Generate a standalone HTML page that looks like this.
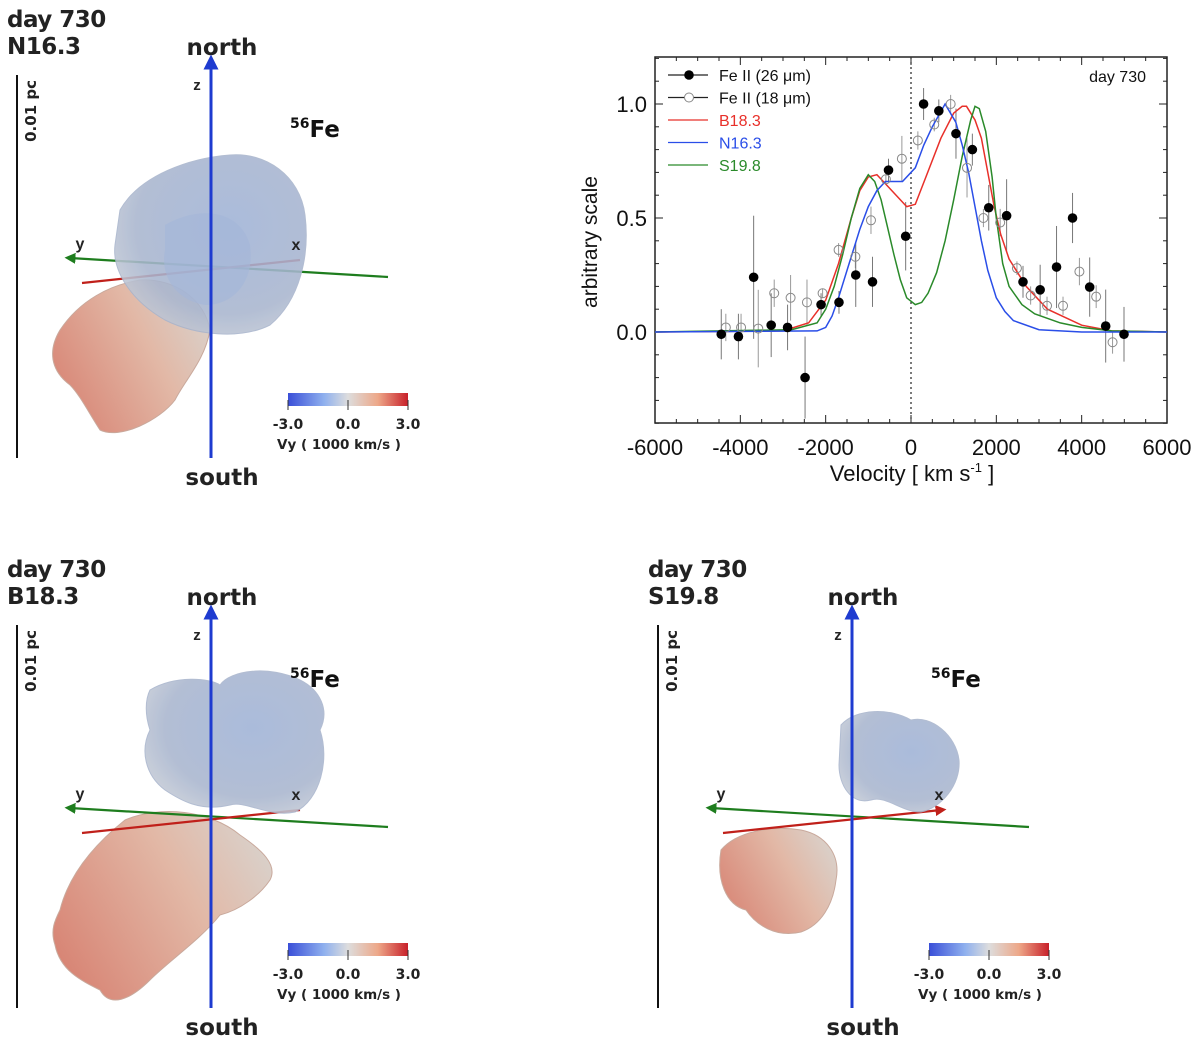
<!DOCTYPE html>
<html><head><meta charset="utf-8"><style>
body{margin:0;background:#fff;}
svg{display:block;font-family:"Liberation Sans",sans-serif;}
</style></head><body>
<svg id="root" width="1200" height="1046" viewBox="0 0 1200 1046">
<defs>
<linearGradient id="cb" x1="0" x2="1"><stop offset="0" stop-color="#3a4fd8"/><stop offset="0.3" stop-color="#8fb0ee"/><stop offset="0.5" stop-color="#dddddd"/><stop offset="0.75" stop-color="#eda788"/><stop offset="1" stop-color="#c8202a"/></linearGradient>
<radialGradient id="blueblob" cx="0.6" cy="0.4" r="0.7"><stop offset="0" stop-color="#9fb2d6"/><stop offset="0.7" stop-color="#a9b6cf"/><stop offset="1" stop-color="#c8cdd6"/></radialGradient>
<linearGradient id="redblob" x1="0" x2="1" y1="0.7" y2="0.2"><stop offset="0" stop-color="#d88676"/><stop offset="0.6" stop-color="#e2b8a6"/><stop offset="1" stop-color="#d9d2cc"/></linearGradient>
<marker id="ab" viewBox="0 0 10 10" refX="5" refY="5" markerWidth="5" markerHeight="6" orient="auto"><path d="M0,0L10,5L0,10z" fill="#1e3bd0"/></marker>
<marker id="ag" viewBox="0 0 10 10" refX="5" refY="5" markerWidth="5" markerHeight="5" orient="auto"><path d="M0,0L10,5L0,10z" fill="#1e7d1e"/></marker>
<marker id="ar" viewBox="0 0 10 10" refX="5" refY="5" markerWidth="5" markerHeight="5" orient="auto"><path d="M0,0L10,5L0,10z" fill="#c0201a"/></marker>
</defs>
<g id="panels"></g>
<g id="chart"></g>
</svg>
<script>
// ---- chart data ----
const filledV=[-4447,-4045,-3688,-3277,-2893,-2483,-2108,-1688,-1295,-902,-527,-125,295,652,1054,1438,1822,2241,2625,3027,3411,3786,4188,4563,4992];
const filledY=[-0.01,-0.02,0.24,0.03,0.02,-0.2,0.12,0.13,0.25,0.22,0.71,0.42,1.0,0.97,0.87,0.80,0.545,0.51,0.22,0.185,0.285,0.50,0.197,0.026,-0.01];
const filledErr=[0.11,0.1,0.27,0.14,0.1,0.18,0.05,0.05,0.14,0.11,0.05,0.15,0.07,0.05,0.11,0.07,0.1,0.16,0.07,0.11,0.18,0.11,0.13,0.16,0.12];
const openV=[-4340,-3983,-3580,-3206,-2822,-2438,-2072,-1697,-1304,-938,-589,-214,161,545,929,1313,1697,2090,2483,2804,3188,3563,3947,4340,4724];
const openY=[0.02,0.02,0.015,0.17,0.15,0.13,0.17,0.36,0.33,0.49,0.67,0.76,0.84,0.91,1.0,0.72,0.5,0.48,0.28,0.16,0.115,0.115,0.265,0.155,-0.045];
const openErr=[0.06,0.06,0.17,0.06,0.1,0.1,0.02,0.03,0.05,0.06,0.02,0.1,0.04,0.03,0.04,0.13,0.04,0.06,0.03,0.04,0.04,0.04,0.06,0.05,0.05];
const redV=[-6000,-3000,-2400,-2000,-1700,-1400,-1200,-1000,-800,-600,-450,-250,-100,100,350,700,1000,1200,1300,1500,1650,1800,1950,2100,2300,2700,3200,4000,4700,6000];
const redY=[0,0.005,0.04,0.14,0.3,0.5,0.62,0.68,0.69,0.65,0.62,0.58,0.55,0.56,0.68,0.85,0.96,0.99,0.99,0.93,0.85,0.7,0.55,0.43,0.32,0.2,0.1,0.03,0.005,0];
const blueV=[-6000,-2200,-2000,-1850,-1700,-1450,-1200,-1000,-800,-600,-200,100,300,500,800,1050,1200,1350,1500,1650,1800,2000,2200,2400,3000,4000,6000];
const blueY=[0,0.005,0.02,0.07,0.15,0.3,0.45,0.55,0.62,0.66,0.66,0.72,0.82,0.9,1.0,0.92,0.82,0.7,0.55,0.4,0.27,0.15,0.09,0.05,0.01,0,0];
const greenV=[-6000,-2800,-2200,-2000,-1800,-1600,-1400,-1200,-1000,-850,-700,-550,-400,-250,-100,100,250,400,600,800,1000,1200,1400,1500,1600,1750,1900,2000,2150,2300,2600,2900,3500,4000,4700,6000];
const greenY=[0,0.01,0.04,0.1,0.2,0.34,0.5,0.63,0.69,0.66,0.58,0.46,0.34,0.23,0.15,0.12,0.13,0.17,0.26,0.4,0.58,0.77,0.93,0.99,0.98,0.88,0.68,0.5,0.3,0.2,0.12,0.08,0.04,0.02,0.005,0];
const xTicks=[-6000,-4000,-2000,0,2000,4000,6000];
const yTicks=[0.0,0.5,1.0];

const NS="http://www.w3.org/2000/svg";
function mk(parent,tag,attrs,text){const e=document.createElementNS(NS,tag);for(const k in attrs)e.setAttribute(k,attrs[k]);if(text!==undefined)e.textContent=text;parent.appendChild(e);return e;}
const X0=655,X1=1167,Y0=57,Y1=423;
const xs=v=>X0+(v+6000)/12000*(X1-X0);
const ys=y=>332-y*228;
const C=document.getElementById('chart');

const fr=mk(C,'rect',{x:X0,y:Y0,width:X1-X0,height:Y1-Y0,fill:'none',stroke:'#222','stroke-width':1.5});


for(let v=-6000;v<=6000;v+=500){const big=v%2000===0;const L=big?8:4;
 mk(C,'line',{x1:xs(v),x2:xs(v),y1:Y1,y2:Y1-L,stroke:'#222'});mk(C,'line',{x1:xs(v),x2:xs(v),y1:Y0,y2:Y0+L,stroke:'#222'});}
for(let y=-0.4;y<=1.2001;y+=0.1){const big=Math.abs(y*2-Math.round(y*2))<1e-6;const L=big?8:4;
 mk(C,'line',{x1:X0,x2:X0+L,y1:ys(y),y2:ys(y),stroke:'#222'});mk(C,'line',{x1:X1,x2:X1-L,y1:ys(y),y2:ys(y),stroke:'#222'});}
xTicks.forEach(v=>{const t=mk(C,'text',{x:xs(v),y:455,'text-anchor':'middle','font-size':22,fill:'#111'},String(v));
 
 });
yTicks.forEach(v=>{const t=mk(C,'text',{x:647,y:ys(v)+8,'text-anchor':'end','font-size':22,fill:'#111'},v.toFixed(1));
 
 });
const xt=mk(C,'text',{x:912,y:481,'text-anchor':'middle','font-size':22,fill:'#111'});
xt.innerHTML='Velocity [ km s<tspan dy="-9" font-size="13">-1</tspan><tspan dy="9"> ]</tspan>';


const yt=mk(C,'text',{x:597,y:242,'text-anchor':'middle','font-size':21,fill:'#111',transform:'rotate(-90 597 242)'},'arbitrary scale');


const zl=mk(C,'line',{x1:xs(0),x2:xs(0),y1:Y0,y2:Y1,stroke:'#333','stroke-dasharray':'2,3','stroke-width':1.3});


const dl=mk(C,'text',{x:1146,y:82,'text-anchor':'end','font-size':16,fill:'#111'},'day 730');



function line(V,Y,col,name){const p=mk(C,'path',{d:V.map((v,i)=>(i?'L':'M')+xs(v).toFixed(1)+','+ys(Y[i]).toFixed(1)).join(''),fill:'none',stroke:col,'stroke-width':1.5});
 
 }
openV.forEach((v,i)=>{mk(C,'line',{x1:xs(v),x2:xs(v),y1:ys(openY[i]-openErr[i]),y2:ys(openY[i]+openErr[i]),stroke:'#999','stroke-width':1});});
filledV.forEach((v,i)=>{mk(C,'line',{x1:xs(v),x2:xs(v),y1:ys(filledY[i]-filledErr[i]),y2:ys(filledY[i]+filledErr[i]),stroke:'#777','stroke-width':1});});
line(redV,redY,'#e8302a','model-b18-3-line');
line(greenV,greenY,'#2a8a2a','model-s19-8-line');
line(blueV,blueY,'#2a4ee8','model-n16-3-line');
openV.forEach((v,i)=>{const c=mk(C,'circle',{cx:xs(v),cy:ys(openY[i]),r:4.5,fill:'none',stroke:'#888','stroke-width':1});
 
 });
filledV.forEach((v,i)=>{const c=mk(C,'circle',{cx:xs(v),cy:ys(filledY[i]),r:4.8,fill:'#000'});
 
 });
const legItems=[['Fe II (26 \u03bcm)','#222','filled'],['Fe II (18 \u03bcm)','#222','open'],['B18.3','#e8302a'],['N16.3','#2a4ee8'],['S19.8','#2a8a2a']];
legItems.forEach((it,i)=>{const y=81+i*22.5;const g=mk(C,'g',{});
 
 
 mk(g,'line',{x1:668,x2:708,y1:y-6,y2:y-6,stroke:it[1],'stroke-width':1.3});
 if(it[2]==='filled')mk(g,'circle',{cx:689,cy:y-6,r:4.8,fill:'#000'});
 if(it[2]==='open')mk(g,'circle',{cx:689,cy:y-6,r:4.5,fill:'#fff',stroke:'#888'});
 mk(g,'text',{x:719,y:y,'font-size':16,fill:it[2]?'#111':it[1]},it[0]);});

// ---- 3D panels ----
const P=document.getElementById('panels');
const panels=[
 {ox:0,oy:0,model:'N16.3',
  blue:'M120,210 C140,175 190,158 230,155 C265,152 300,175 305,215 C310,255 300,300 270,325 C240,340 195,335 165,320 C130,300 112,270 115,245 Z',
  red:'M60,330 C80,300 110,285 140,280 C175,278 205,300 210,330 C205,360 185,380 175,400 C160,420 120,440 100,430 C90,415 80,395 70,385 C50,370 48,350 60,330 Z',
  inner:'M165,225 C200,205 240,210 250,245 C255,280 235,305 205,305 C175,300 160,275 165,250 Z'},
 {ox:0,oy:550,model:'B18.3',
  blue:'M150,140 C175,125 210,128 220,135 C230,120 270,115 300,130 C320,140 330,160 320,180 C330,210 320,250 295,262 C270,268 245,250 230,255 C200,262 180,250 165,240 C145,225 140,200 150,180 C145,165 145,150 150,140 Z',
  red:'M60,360 C70,320 100,290 125,270 C160,255 210,260 240,285 C262,300 278,315 270,330 C260,345 240,360 220,365 C200,390 170,410 150,430 C130,450 110,458 100,440 C80,430 60,420 55,395 C50,380 55,370 60,360 Z',
  inner:null},
 {ox:641,oy:550,model:'S19.8',
  blue:'M200,175 C215,158 250,158 270,170 C290,165 315,185 318,210 C320,235 300,258 280,262 C260,262 245,245 230,250 C210,255 198,235 198,215 Z',
  red:'M80,300 C95,282 130,275 160,280 C185,285 200,305 195,330 C192,355 180,375 160,382 C135,388 115,375 105,360 C85,355 75,330 80,300 Z',
  inner:null}
];
panels.forEach((p,idx)=>{
 const g=mk(P,'g',{transform:`translate(${p.ox},${p.oy})`});
 
 
 const t1=mk(g,'text',{x:7,y:27,'font-size':23,'font-weight':'bold',fill:'#222','font-family':'DejaVu Sans, sans-serif','letter-spacing':'-0.5'},'day 730');
 
 
 const t2=mk(g,'text',{x:7,y:54,'font-size':23,'font-weight':'bold',fill:'#222','font-family':'DejaVu Sans, sans-serif','letter-spacing':'-0.5'},p.model);
 
 
 const n=mk(g,'text',{x:222,y:55,'text-anchor':'middle','font-size':23,'font-weight':'bold',fill:'#222','font-family':'DejaVu Sans, sans-serif'},'north');
 
 
 const s=mk(g,'text',{x:222,y:485,'text-anchor':'middle','font-size':23,'font-weight':'bold',fill:'#222','font-family':'DejaVu Sans, sans-serif'},'south');
 
 
 const sb=mk(g,'line',{x1:17,x2:17,y1:75,y2:458,stroke:'#111','stroke-width':2});
 
 
 const st=mk(g,'text',{x:36,y:80,'font-size':15,'font-weight':'bold',fill:'#222','text-anchor':'end',transform:'rotate(-90 36 80)','font-family':'DejaVu Sans, sans-serif'},'0.01 pc');
 
 
 const rb=mk(g,'path',{d:p.red,fill:'url(#redblob)',stroke:'#c9a99c','stroke-width':1});
 
 
 const ga=mk(g,'line',{x1:388,y1:277,x2:70,y2:258,stroke:'#1e7d1e','stroke-width':2.2,'marker-end':'url(#ag)'});
 
 
 const ra=mk(g,'line',{x1:82,y1:283,x2:300,y2:260,stroke:'#c0201a','stroke-width':2.2,'marker-end':idx===2?'url(#ar)':''});
 
 
 const bb=mk(g,'path',{d:p.blue,fill:'url(#blueblob)',stroke:'#a8b4cc','stroke-width':1,opacity:0.88});
 
 
 if(p.inner)mk(g,'path',{d:p.inner,fill:'#a3b6d8',opacity:0.6});
 const za=mk(g,'line',{x1:211,y1:458,x2:211,y2:62,stroke:'#1e3bd0','stroke-width':3,'marker-end':'url(#ab)'});
 
 
 mk(g,'text',{x:197,y:90,'text-anchor':'middle','font-size':15,'font-weight':'bold',fill:'#222'},'z');
 mk(g,'text',{x:80,y:249,'text-anchor':'middle','font-size':16,'font-weight':'bold',fill:'#222'},'y');
 mk(g,'text',{x:idx===2?298:296,y:250,'text-anchor':'middle','font-size':16,'font-weight':'bold',fill:'#222'},'x');
 const fe=mk(g,'text',{x:290,y:137,'font-size':23,'font-weight':'bold',fill:'#111','font-family':'DejaVu Sans, sans-serif'});
 fe.innerHTML='<tspan font-size="14" dy="-9">56</tspan><tspan dy="9">Fe</tspan>';
 
 
 const cb=mk(g,'rect',{x:288,y:393,width:120,height:13,fill:'url(#cb)'});
 
 
 [288,348,408].forEach(x=>mk(g,'line',{x1:x,x2:x,y1:400,y2:410,stroke:'#333'}));
 [['-3.0',288],['0.0',348],['3.0',408]].forEach(a=>mk(g,'text',{x:a[1],y:429,'text-anchor':'middle','font-size':14,'font-weight':'bold',fill:'#222','font-family':'DejaVu Sans, sans-serif'},a[0]));
 const cl=mk(g,'text',{x:339,y:449,'text-anchor':'middle','font-size':13.5,'font-weight':'bold',fill:'#222','font-family':'DejaVu Sans, sans-serif'},'Vy ( 1000 km/s )');
 
 
});
</script>
</body></html>
